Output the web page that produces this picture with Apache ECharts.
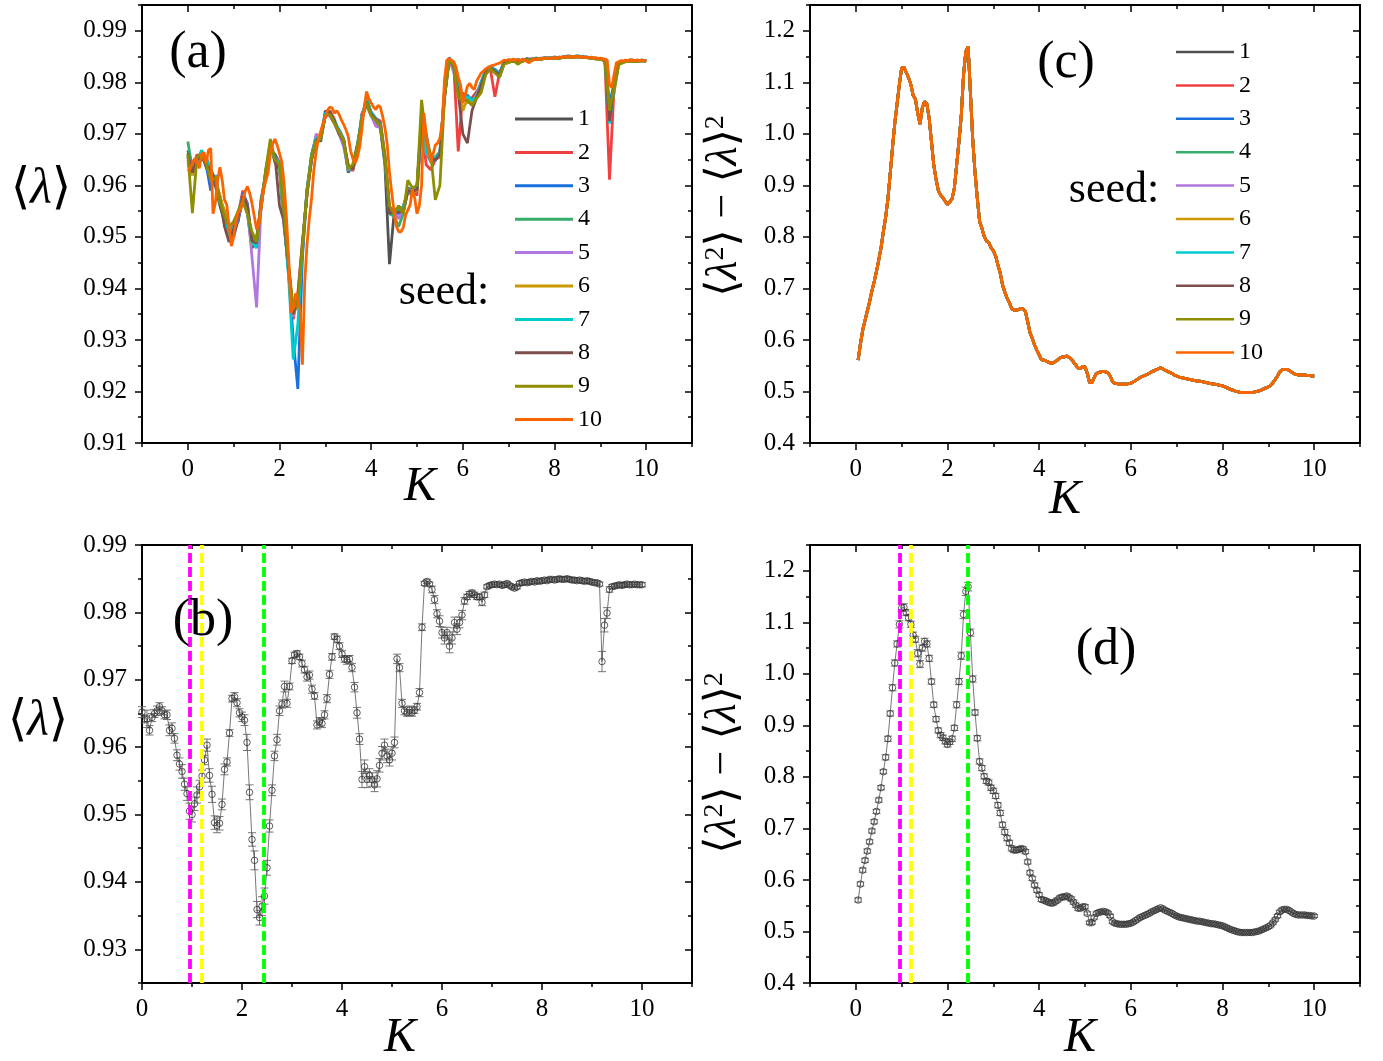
<!DOCTYPE html>
<html>
<head>
<meta charset="utf-8">
<script src="https://cdn.jsdelivr.net/npm/echarts@6/dist/echarts.min.js"></script>
<style>
  html, body { margin: 0; padding: 0; background: #fff; }
  #chart { width: 1383px; height: 1061px; }
</style>
</head>
<body>
<div id="chart"></div>
<script>
// Quatre panneaux : (a) <λ> par seed, (b) moyenne ± erreur, (c) variance par seed, (d) variance moyenne.

// ---- données ----
const seedNames = ["1", "2", "3", "4", "5", "6", "7", "8", "9", "10"];
const seedColors = ["#515151", "#F14040", "#1A6FDF", "#37AD6B", "#B177DE",
                    "#CC9900", "#00CBCC", "#7D4E4E", "#8E8E00", "#FB6501"];

// grilles en K
const K_FINE = 0.05;   // pas des seeds 10, de la moyenne et de la variance
const K_COARSE = 0.1;  // pas des seeds 1..9 (panneau a)

// ticks
const kMajor = [0, 2, 4, 6, 8, 10];
const kMinor = [-1, 1, 3, 5, 7, 9, 11];
const kMinorB = [1, 3, 5, 7, 9, 11];
const lamMajorA = [0.91, 0.92, 0.93, 0.94, 0.95, 0.96, 0.97, 0.98, 0.99];
const lamMinorA = [0.915, 0.925, 0.935, 0.945, 0.955, 0.965, 0.975, 0.985, 0.995];
const lamMajorB = [0.93, 0.94, 0.95, 0.96, 0.97, 0.98, 0.99];
const lamMinorB = [0.925, 0.935, 0.945, 0.955, 0.965, 0.975, 0.985];
const varMajor = [0.4, 0.5, 0.6, 0.7, 0.8, 0.9, 1.0, 1.1, 1.2];
const varMinor = [0.45, 0.55, 0.65, 0.75, 0.85, 0.95, 1.05, 1.15, 1.25];

// (a) seeds 1..9, K = 0 .. 10 pas 0.1
const seed1 = [
  0.9668,0.9640,0.9655,0.9662,0.9635,0.9618,0.9600,0.9560,0.9530,0.9515,
  0.9500,0.9535,0.9570,0.9545,0.9478,0.9495,0.9555,0.9630,0.9680,0.9645,
  0.9630,0.9520,0.9440,0.9355,0.9365,0.9470,0.9592,0.9660,0.9695,0.9685,
  0.9745,0.9735,0.9720,0.9700,0.9690,0.9625,0.9640,0.9680,0.9728,0.9770,
  0.9740,0.9725,0.9712,0.9640,0.9447,0.9545,0.9560,0.9548,0.9590,0.9580,
  0.9600,0.9725,0.9660,0.9648,0.9655,0.9665,0.9770,0.9840,0.9830,0.9790,
  0.9765,0.9772,0.9758,0.9770,0.9800,0.9820,0.9830,0.9820,0.9810,0.9836,
  0.9842,0.9840,0.9843,0.9841,0.9845,0.9842,0.9846,0.9845,0.9847,0.9846,
  0.9848,0.9847,0.9849,0.9850,0.9849,0.9850,0.9849,0.9848,0.9848,0.9846,
  0.9845,0.9843,0.9735,0.9800,0.9838,0.9840,0.9841,0.9842,0.9840,0.9842,
  0.9841];
const seed2 = [
  0.9640,0.9630,0.9660,0.9650,0.9655,0.9630,0.9605,0.9580,0.9540,0.9498,
  0.9525,0.9545,0.9590,0.9550,0.9495,0.9480,0.9575,0.9615,0.9670,0.9660,
  0.9645,0.9540,0.9425,0.9340,0.9390,0.9490,0.9580,0.9650,0.9688,0.9700,
  0.9735,0.9745,0.9728,0.9700,0.9680,0.9640,0.9628,0.9665,0.9740,0.9755,
  0.9735,0.9730,0.9725,0.9660,0.9560,0.9540,0.9548,0.9560,0.9585,0.9595,
  0.9580,0.9720,0.9640,0.9630,0.9650,0.9655,0.9785,0.9845,0.9836,0.9666,
  0.9780,0.9760,0.9770,0.9782,0.9790,0.9820,0.9826,0.9772,0.9818,0.9838,
  0.9840,0.9842,0.9840,0.9843,0.9842,0.9846,0.9845,0.9847,0.9846,0.9848,
  0.9847,0.9849,0.9848,0.9850,0.9849,0.9850,0.9850,0.9849,0.9847,0.9846,
  0.9845,0.9842,0.9611,0.9790,0.9836,0.9840,0.9842,0.9841,0.9843,0.9842,
  0.9842];
const seed3 = [
  0.9655,0.9620,0.9648,0.9665,0.9640,0.9590,0.9620,0.9570,0.9550,0.9510,
  0.9520,0.9530,0.9585,0.9565,0.9490,0.9500,0.9560,0.9625,0.9670,0.9660,
  0.9640,0.9530,0.9430,0.9300,0.9205,0.9460,0.9590,0.9650,0.9690,0.9695,
  0.9740,0.9742,0.9722,0.9708,0.9690,0.9630,0.9632,0.9675,0.9738,0.9762,
  0.9742,0.9730,0.9720,0.9655,0.9550,0.9555,0.9545,0.9550,0.9595,0.9590,
  0.9595,0.9735,0.9670,0.9650,0.9648,0.9662,0.9780,0.9848,0.9836,0.9800,
  0.9772,0.9775,0.9765,0.9778,0.9800,0.9825,0.9830,0.9825,0.9818,0.9840,
  0.9843,0.9842,0.9844,0.9842,0.9846,0.9844,0.9847,0.9846,0.9848,0.9847,
  0.9849,0.9848,0.9850,0.9851,0.9850,0.9851,0.9850,0.9849,0.9848,0.9846,
  0.9846,0.9843,0.9760,0.9795,0.9838,0.9841,0.9842,0.9843,0.9841,0.9843,
  0.9842];
const seed4 = [
  0.9685,0.9630,0.9645,0.9668,0.9650,0.9632,0.9608,0.9575,0.9535,0.9500,
  0.9510,0.9550,0.9575,0.9552,0.9495,0.9490,0.9570,0.9625,0.9678,0.9650,
  0.9638,0.9535,0.9440,0.9352,0.9370,0.9480,0.9585,0.9660,0.9685,0.9692,
  0.9738,0.9740,0.9726,0.9702,0.9682,0.9628,0.9638,0.9670,0.9730,0.9765,
  0.9736,0.9728,0.9715,0.9645,0.9545,0.9540,0.9520,0.9545,0.9590,0.9585,
  0.9590,0.9730,0.9660,0.9655,0.9652,0.9658,0.9775,0.9846,0.9832,0.9795,
  0.9768,0.9768,0.9760,0.9772,0.9795,0.9822,0.9828,0.9822,0.9812,0.9837,
  0.9841,0.9840,0.9842,0.9841,0.9844,0.9843,0.9846,0.9845,0.9847,0.9846,
  0.9848,0.9847,0.9849,0.9850,0.9849,0.9850,0.9849,0.9848,0.9847,0.9846,
  0.9845,0.9842,0.9740,0.9785,0.9836,0.9840,0.9841,0.9842,0.9841,0.9842,
  0.9841];
const seed5 = [
  0.9650,0.9628,0.9652,0.9658,0.9645,0.9622,0.9610,0.9570,0.9540,0.9510,
  0.9512,0.9538,0.9582,0.9560,0.9460,0.9363,0.9565,0.9618,0.9672,0.9655,
  0.9642,0.9530,0.9435,0.9345,0.9380,0.9478,0.9590,0.9650,0.9700,0.9688,
  0.9735,0.9736,0.9720,0.9700,0.9675,0.9630,0.9635,0.9672,0.9730,0.9758,
  0.9735,0.9715,0.9712,0.9650,0.9555,0.9550,0.9535,0.9555,0.9588,0.9590,
  0.9592,0.9728,0.9662,0.9648,0.9652,0.9660,0.9778,0.9844,0.9820,0.9790,
  0.9772,0.9770,0.9762,0.9776,0.9798,0.9820,0.9828,0.9822,0.9816,0.9838,
  0.9842,0.9841,0.9843,0.9842,0.9845,0.9843,0.9846,0.9845,0.9848,0.9847,
  0.9849,0.9848,0.9849,0.9850,0.9850,0.9850,0.9849,0.9849,0.9848,0.9846,
  0.9845,0.9843,0.9750,0.9782,0.9837,0.9840,0.9841,0.9843,0.9841,0.9842,
  0.9842];
const seed6 = [
  0.9645,0.9620,0.9648,0.9662,0.9650,0.9615,0.9618,0.9578,0.9550,0.9505,
  0.9518,0.9542,0.9578,0.9555,0.9485,0.9490,0.9562,0.9620,0.9676,0.9652,
  0.9640,0.9532,0.9430,0.9350,0.9375,0.9488,0.9585,0.9652,0.9688,0.9694,
  0.9738,0.9740,0.9722,0.9705,0.9688,0.9635,0.9632,0.9670,0.9735,0.9762,
  0.9738,0.9728,0.9718,0.9652,0.9552,0.9548,0.9552,0.9552,0.9592,0.9588,
  0.9590,0.9732,0.9665,0.9650,0.9650,0.9660,0.9778,0.9845,0.9834,0.9798,
  0.9745,0.9768,0.9762,0.9775,0.9796,0.9822,0.9829,0.9823,0.9815,0.9838,
  0.9841,0.9840,0.9842,0.9841,0.9845,0.9843,0.9846,0.9845,0.9847,0.9846,
  0.9848,0.9847,0.9849,0.9850,0.9849,0.9850,0.9849,0.9848,0.9847,0.9846,
  0.9845,0.9842,0.9730,0.9780,0.9835,0.9840,0.9841,0.9842,0.9840,0.9842,
  0.9841];
const seed7 = [
  0.9660,0.9632,0.9640,0.9668,0.9652,0.9628,0.9612,0.9565,0.9540,0.9502,
  0.9518,0.9545,0.9580,0.9548,0.9490,0.9478,0.9570,0.9622,0.9670,0.9655,
  0.9642,0.9535,0.9420,0.9262,0.9330,0.9480,0.9590,0.9655,0.9692,0.9690,
  0.9740,0.9738,0.9725,0.9706,0.9685,0.9632,0.9636,0.9672,0.9735,0.9768,
  0.9740,0.9730,0.9716,0.9648,0.9550,0.9552,0.9550,0.9558,0.9590,0.9586,
  0.9594,0.9730,0.9668,0.9645,0.9655,0.9662,0.9780,0.9846,0.9835,0.9800,
  0.9770,0.9772,0.9765,0.9770,0.9800,0.9824,0.9830,0.9824,0.9816,0.9840,
  0.9843,0.9841,0.9843,0.9842,0.9845,0.9844,0.9847,0.9846,0.9848,0.9847,
  0.9849,0.9848,0.9849,0.9850,0.9850,0.9851,0.9850,0.9849,0.9848,0.9847,
  0.9846,0.9843,0.9720,0.9788,0.9837,0.9841,0.9842,0.9843,0.9841,0.9843,
  0.9842];
const seed8 = [
  0.9662,0.9625,0.9650,0.9655,0.9640,0.9630,0.9608,0.9572,0.9520,0.9490,
  0.9515,0.9540,0.9580,0.9560,0.9492,0.9488,0.9568,0.9620,0.9672,0.9658,
  0.9560,0.9530,0.9440,0.9350,0.9385,0.9485,0.9585,0.9652,0.9688,0.9692,
  0.9735,0.9742,0.9724,0.9700,0.9685,0.9638,0.9632,0.9670,0.9730,0.9762,
  0.9738,0.9728,0.9715,0.9650,0.9545,0.9550,0.9548,0.9550,0.9590,0.9588,
  0.9592,0.9728,0.9700,0.9652,0.9650,0.9660,0.9770,0.9846,0.9830,0.9780,
  0.9700,0.9682,0.9745,0.9770,0.9795,0.9820,0.9828,0.9822,0.9814,0.9838,
  0.9842,0.9840,0.9843,0.9841,0.9845,0.9843,0.9846,0.9845,0.9847,0.9846,
  0.9848,0.9847,0.9849,0.9850,0.9849,0.9850,0.9849,0.9848,0.9847,0.9846,
  0.9845,0.9842,0.9725,0.9792,0.9836,0.9840,0.9841,0.9842,0.9841,0.9842,
  0.9841];
const seed9 = [
  0.9660,0.9546,0.9655,0.9660,0.9642,0.9610,0.9615,0.9570,0.9540,0.9520,
  0.9530,0.9550,0.9570,0.9545,0.9510,0.9490,0.9560,0.9630,0.9690,0.9650,
  0.9640,0.9545,0.9445,0.9360,0.9375,0.9480,0.9588,0.9655,0.9686,0.9690,
  0.9735,0.9738,0.9720,0.9704,0.9686,0.9632,0.9640,0.9675,0.9730,0.9760,
  0.9735,0.9726,0.9715,0.9655,0.9560,0.9545,0.9560,0.9545,0.9610,0.9595,
  0.9600,0.9766,0.9690,0.9660,0.9572,0.9600,0.9770,0.9845,0.9832,0.9770,
  0.9765,0.9765,0.9755,0.9768,0.9780,0.9815,0.9826,0.9818,0.9810,0.9835,
  0.9838,0.9842,0.9835,0.9841,0.9844,0.9843,0.9846,0.9844,0.9847,0.9846,
  0.9848,0.9846,0.9849,0.9849,0.9849,0.9850,0.9849,0.9848,0.9847,0.9845,
  0.9845,0.9842,0.9745,0.9790,0.9834,0.9838,0.9841,0.9840,0.9841,0.9842,
  0.9841];
// (a) seed 10, K = 0 .. 10 pas 0.05 (tracée par-dessus)
const seed10 = [
  0.9628,0.9632,0.9643,0.9652,0.9648,0.9633,0.9660,0.9664,0.9643,0.9668,
  0.9672,0.9545,0.9566,0.9610,0.9635,0.9610,0.9572,0.9562,0.9520,0.9482,
  0.9500,0.9530,0.9548,0.9553,0.9570,0.9588,0.9598,0.9585,0.9565,0.9540,
  0.9515,0.9525,0.9559,0.9590,0.9608,0.9624,0.9660,0.9680,0.9690,0.9678,
  0.9662,0.9645,0.9605,0.9540,0.9460,0.9353,0.9362,0.9390,0.9378,0.9360,
  0.9252,0.9411,0.9485,0.9535,0.9575,0.9630,0.9665,0.9690,0.9705,0.9720,
  0.9732,0.9746,0.9752,0.9750,0.9740,0.9745,0.9738,0.9727,0.9718,0.9708,
  0.9695,0.9668,0.9652,0.9643,0.9654,0.9675,0.9710,0.9753,0.9782,0.9768,
  0.9760,0.9752,0.9747,0.9755,0.9752,0.9734,0.9712,0.9680,0.9624,0.9585,
  0.9550,0.9521,0.9510,0.9510,0.9518,0.9542,0.9552,0.9562,0.9592,0.9575,
  0.9545,0.9560,0.9600,0.9740,0.9700,0.9668,0.9645,0.9660,0.9678,0.9682,
  0.9692,0.9720,0.9805,0.9843,0.9846,0.9843,0.9840,0.9830,0.9810,0.9795,
  0.9760,0.9775,0.9792,0.9798,0.9790,0.9786,0.9802,0.9810,0.9818,0.9822,
  0.9826,0.9829,0.9831,0.9833,0.9834,0.9836,0.9837,0.9840,0.9843,0.9842,
  0.9844,0.9843,0.9845,0.9843,0.9844,0.9842,0.9845,0.9843,0.9840,0.9838,
  0.9842,0.9845,0.9844,0.9846,0.9845,0.9847,0.9846,0.9848,0.9846,0.9847,
  0.9848,0.9847,0.9849,0.9848,0.9850,0.9849,0.9850,0.9851,0.9849,0.9850,
  0.9851,0.9849,0.9850,0.9848,0.9849,0.9848,0.9849,0.9847,0.9848,0.9846,
  0.9847,0.9846,0.9845,0.9843,0.9795,0.9790,0.9815,0.9838,0.9840,0.9842,
  0.9841,0.9843,0.9842,0.9844,0.9843,0.9842,0.9843,0.9842,0.9843,0.9842,
  0.9843];

// (b) moyenne sur les seeds et barre d'erreur, K = 0 .. 10 pas 0.05
const lamMean = [
  0.9652,0.9642,0.9642,0.9625,0.9644,0.9650,0.9654,0.9660,0.9654,0.9648,
  0.9648,0.9625,0.9628,0.9613,0.9588,0.9575,0.9564,0.9545,0.9531,0.9505,
  0.9500,0.9516,0.9529,0.9541,0.9557,0.9581,0.9603,0.9558,0.9530,0.9488,
  0.9484,0.9487,0.9515,0.9567,0.9578,0.9621,0.9672,0.9675,0.9666,0.9651,
  0.9645,0.9640,0.9607,0.9533,0.9463,0.9432,0.9359,0.9347,0.9364,0.9379,
  0.9421,0.9483,0.9536,0.9587,0.9611,0.9654,0.9664,0.9690,0.9665,0.9690,
  0.9728,0.9737,0.9739,0.9734,0.9724,0.9715,0.9704,0.9707,0.9686,0.9676,
  0.9633,0.9638,0.9635,0.9648,0.9672,0.9708,0.9734,0.9764,0.9760,0.9750,
  0.9738,0.9731,0.9729,0.9731,0.9718,0.9689,0.9651,0.9612,0.9552,0.9571,
  0.9552,0.9558,0.9552,0.9544,0.9553,0.9573,0.9591,0.9603,0.9587,0.9581,
  0.9591,0.9607,0.9731,0.9718,0.9665,0.9654,0.9651,0.9655,0.9651,0.9655,
  0.9660,0.9681,0.9778,0.9843,0.9846,0.9842,0.9834,0.9819,0.9798,0.9787,
  0.9770,0.9762,0.9770,0.9750,0.9762,0.9785,0.9775,0.9785,0.9796,0.9817,
  0.9823,0.9827,0.9829,0.9826,0.9823,0.9823,0.9815,0.9826,0.9838,0.9840,
  0.9841,0.9842,0.9841,0.9842,0.9840,0.9841,0.9843,0.9840,0.9838,0.9836,
  0.9838,0.9843,0.9844,0.9845,0.9844,0.9845,0.9846,0.9845,0.9847,0.9846,
  0.9847,0.9848,0.9847,0.9849,0.9849,0.9848,0.9849,0.9850,0.9849,0.9849,
  0.9850,0.9849,0.9848,0.9848,0.9847,0.9848,0.9847,0.9846,0.9847,0.9846,
  0.9845,0.9844,0.9844,0.9842,0.9727,0.9781,0.9799,0.9834,0.9838,0.9839,
  0.9840,0.9841,0.9840,0.9841,0.9842,0.9841,0.9841,0.9842,0.9841,0.9841,
  0.9841];
const lamErr = [
  0.0008,0.0006,0.0013,0.0007,0.0006,0.0006,0.0007,0.0006,0.0006,0.0006,
  0.0007,0.0008,0.0008,0.0007,0.0008,0.0009,0.0010,0.0009,0.0010,0.0012,
  0.0011,0.0010,0.0012,0.0010,0.0009,0.0007,0.0009,0.0010,0.0012,0.0010,
  0.0011,0.0010,0.0008,0.0008,0.0006,0.0005,0.0005,0.0006,0.0006,0.0006,
  0.0007,0.0008,0.0012,0.0011,0.0010,0.0014,0.0012,0.0011,0.0014,0.0012,
  0.0011,0.0009,0.0008,0.0007,0.0008,0.0007,0.0006,0.0008,0.0006,0.0005,
  0.0004,0.0004,0.0004,0.0004,0.0005,0.0005,0.0006,0.0006,0.0006,0.0005,
  0.0006,0.0006,0.0006,0.0006,0.0006,0.0006,0.0005,0.0004,0.0005,0.0005,
  0.0005,0.0005,0.0006,0.0005,0.0006,0.0007,0.0008,0.0008,0.0012,0.0010,
  0.0012,0.0010,0.0010,0.0010,0.0012,0.0010,0.0010,0.0009,0.0010,0.0009,
  0.0010,0.0008,0.0007,0.0006,0.0006,0.0006,0.0005,0.0006,0.0005,0.0005,
  0.0005,0.0006,0.0005,0.0003,0.0003,0.0003,0.0005,0.0006,0.0006,0.0008,
  0.0008,0.0009,0.0008,0.0010,0.0009,0.0008,0.0008,0.0008,0.0007,0.0005,
  0.0004,0.0004,0.0004,0.0004,0.0004,0.0004,0.0005,0.0004,0.0003,0.0003,
  0.0003,0.0003,0.0003,0.0003,0.0003,0.0003,0.0003,0.0003,0.0003,0.0003,
  0.0003,0.0003,0.0003,0.0003,0.0003,0.0003,0.0003,0.0003,0.0003,0.0003,
  0.0003,0.0003,0.0003,0.0003,0.0003,0.0003,0.0003,0.0003,0.0003,0.0003,
  0.0003,0.0003,0.0003,0.0003,0.0003,0.0003,0.0003,0.0003,0.0003,0.0003,
  0.0003,0.0003,0.0003,0.0003,0.0015,0.0010,0.0008,0.0004,0.0003,0.0003,
  0.0003,0.0003,0.0003,0.0003,0.0003,0.0003,0.0003,0.0003,0.0003,0.0003,
  0.0003];

// (c)/(d) <λ²> - <λ>², K = 0.05 .. 10 pas 0.05 (les seeds se superposent)
const varMean = [
  0.561,0.592,0.619,0.638,0.656,0.674,0.695,0.713,0.733,0.755,
  0.779,0.810,0.838,0.874,0.923,0.973,1.021,1.058,1.096,1.128,
  1.129,1.119,1.109,1.096,1.075,1.067,1.040,1.019,1.050,1.063,
  1.058,1.030,0.985,0.940,0.912,0.890,0.881,0.876,0.869,0.863,
  0.868,0.874,0.895,0.940,0.985,1.035,1.115,1.160,1.169,1.080,
  0.990,0.925,0.875,0.830,0.817,0.801,0.792,0.789,0.779,0.773,
  0.763,0.745,0.730,0.707,0.693,0.681,0.672,0.661,0.658,0.658,
  0.659,0.661,0.660,0.655,0.635,0.614,0.603,0.590,0.580,0.571,
  0.562,0.561,0.559,0.557,0.555,0.555,0.558,0.561,0.565,0.567,
  0.567,0.569,0.566,0.563,0.557,0.551,0.545,0.545,0.548,0.548,
  0.535,0.517,0.517,0.527,0.535,0.537,0.538,0.539,0.538,0.536,
  0.530,0.519,0.516,0.515,0.514,0.514,0.514,0.514,0.515,0.516,
  0.518,0.521,0.524,0.527,0.529,0.531,0.533,0.535,0.538,0.540,
  0.542,0.544,0.546,0.544,0.541,0.539,0.537,0.535,0.532,0.530,
  0.528,0.527,0.526,0.525,0.524,0.523,0.522,0.521,0.520,0.520,
  0.519,0.518,0.517,0.516,0.515,0.515,0.514,0.513,0.512,0.511,
  0.509,0.507,0.505,0.503,0.502,0.500,0.499,0.498,0.498,0.498,
  0.498,0.498,0.498,0.499,0.500,0.501,0.503,0.505,0.507,0.509,
  0.512,0.517,0.523,0.530,0.538,0.542,0.543,0.543,0.541,0.538,
  0.535,0.533,0.532,0.532,0.532,0.532,0.531,0.531,0.530,0.530];
const varErr = [
  0.004,0.004,0.004,0.004,0.004,0.004,0.004,0.004,0.004,0.004,
  0.004,0.004,0.005,0.005,0.005,0.006,0.006,0.006,0.007,0.007,
  0.007,0.006,0.006,0.006,0.006,0.006,0.007,0.007,0.006,0.006,
  0.006,0.006,0.005,0.005,0.005,0.005,0.005,0.005,0.005,0.005,
  0.005,0.005,0.005,0.006,0.006,0.007,0.008,0.008,0.008,0.007,
  0.006,0.005,0.005,0.005,0.005,0.005,0.005,0.005,0.005,0.005,
  0.005,0.005,0.005,0.005,0.005,0.005,0.005,0.005,0.005,0.005,
  0.004,0.004,0.004,0.004,0.004,0.004,0.004,0.004,0.004,0.004,
  0.004,0.004,0.004,0.004,0.004,0.004,0.004,0.004,0.004,0.004,
  0.004,0.004,0.004,0.004,0.004,0.004,0.004,0.004,0.004,0.004,
  0.003,0.003,0.003,0.003,0.003,0.003,0.003,0.003,0.003,0.003,
  0.003,0.003,0.003,0.003,0.003,0.003,0.003,0.003,0.003,0.003,
  0.003,0.003,0.003,0.003,0.003,0.003,0.003,0.003,0.003,0.003,
  0.003,0.003,0.003,0.003,0.003,0.003,0.003,0.003,0.003,0.003,
  0.003,0.003,0.003,0.003,0.003,0.003,0.003,0.003,0.003,0.003,
  0.003,0.003,0.003,0.003,0.003,0.003,0.003,0.003,0.003,0.003,
  0.003,0.003,0.003,0.003,0.003,0.003,0.003,0.003,0.003,0.003,
  0.003,0.003,0.003,0.003,0.003,0.003,0.003,0.003,0.003,0.003,
  0.003,0.003,0.003,0.003,0.003,0.003,0.003,0.003,0.003,0.003,
  0.003,0.003,0.003,0.003,0.003,0.003,0.003,0.003,0.003,0.003];

// lignes pointillées verticales (b) et (d)
const guideK = [0.96, 1.19, 2.44];
const guideColors = ["#FF00FF", "#FFFF00", "#00FF00"];

// ---- mise en forme ----
const SERIF = '"Liberation Serif", "Times New Roman", "DejaVu Serif", serif';
const fmt2 = (v) => v.toFixed(2);
const fmt1 = (v) => v.toFixed(1);
const fmtK = (v) => String(Math.round(v));

const grids = [
  { left: 142, top: 5, width: 550, height: 438 },   // (a)
  { left: 810, top: 5, width: 550, height: 438 },   // (c)
  { left: 142, top: 545, width: 550, height: 438 }, // (b)
  { left: 810, top: 545, width: 550, height: 438 }, // (d)
];

// cadre fermé : ticks extérieurs à gauche/en bas, intérieurs en haut/à droite
function cadre(dim, gridIndex, min, max, major, minor, fmt) {
  const [dehors, miroir] = dim === "x" ? ["bottom", "top"] : ["left", "right"];
  const base = {
    type: "value", gridIndex, min, max,
    splitLine: { show: false },
    axisLine: { show: false, onZero: false },
    axisLabel: { show: false },
  };
  const trait = { show: true, onZero: false, lineStyle: { color: "#000", width: 2 } };
  const ticks = (vals, len, inside) => ({
    show: true, inside, length: len, customValues: vals,
    lineStyle: { color: "#000", width: 1.5 },
  });
  return [
    { ...base, position: dehors, axisLine: trait, axisTick: ticks(major, 7, false),
      axisLabel: { show: true, customValues: major, formatter: fmt, color: "#000",
        fontFamily: SERIF, fontSize: 25, margin: dim === "x" ? 14 : 15 } },
    { ...base, position: dehors, axisTick: ticks(minor, 4, false) },
    { ...base, position: miroir, axisLine: trait, axisTick: ticks(major, 7, true) },
    { ...base, position: miroir, axisTick: ticks(minor, 4, true) },
  ];
}

const xAxis = [
  ...cadre("x", 0, -1, 11, kMajor, kMinor, fmtK),
  ...cadre("x", 1, -1, 11, kMajor, kMinor, fmtK),
  ...cadre("x", 2, 0, 11, kMajor, kMinorB, fmtK),
  ...cadre("x", 3, -1, 11, kMajor, kMinor, fmtK),
];
const yAxis = [
  ...cadre("y", 0, 0.91, 0.995, lamMajorA, lamMinorA, fmt2),
  ...cadre("y", 1, 0.4, 1.25, varMajor, varMinor, fmt1),
  ...cadre("y", 2, 0.925, 0.99, lamMajorB, lamMinorB, fmt2),
  ...cadre("y", 3, 0.4, 1.25, varMajor, varMinor, fmt1),
];

const paires = (vals, k0, pas) => vals.map((v, i) => [+(k0 + i * pas).toFixed(2), v]);
const triples = (vals, errs, k0, pas) => vals.map((v, i) => [+(k0 + i * pas).toFixed(2), v, errs[i]]);

function barresErreur(params, api) {
  const k = api.value(0), v = api.value(1), e = api.value(2);
  const haut = api.coord([k, v + e]);
  const bas = api.coord([k, v - e]);
  const w = 4;
  const st = { stroke: "#666", lineWidth: 0.9 };
  return {
    type: "group",
    children: [
      { type: "line", shape: { x1: haut[0], y1: haut[1], x2: bas[0], y2: bas[1] }, style: st },
      { type: "line", shape: { x1: haut[0] - w, y1: haut[1], x2: haut[0] + w, y2: haut[1] }, style: st },
      { type: "line", shape: { x1: bas[0] - w, y1: bas[1], x2: bas[0] + w, y2: bas[1] }, style: st },
    ],
  };
}

const series = [];
const seedsA = [seed1, seed2, seed3, seed4, seed5, seed6, seed7, seed8, seed9];

// (a)
seedsA.forEach((vals, i) => {
  series.push({
    type: "line", name: seedNames[i], xAxisIndex: 0, yAxisIndex: 0,
    data: paires(vals, 0, K_COARSE), symbol: "none",
    lineStyle: { color: seedColors[i], width: 2.8 }, itemStyle: { color: seedColors[i] },
  });
});
series.push({
  type: "line", name: seedNames[9], xAxisIndex: 0, yAxisIndex: 0,
  data: paires(seed10, 0, K_FINE), symbol: "none",
  lineStyle: { color: seedColors[9], width: 2.8 }, itemStyle: { color: seedColors[9] },
});

// (c)
seedNames.forEach((nom, i) => {
  series.push({
    type: "line", name: nom, xAxisIndex: 4, yAxisIndex: 4,
    data: paires(varMean, 0.05, K_FINE), symbol: "none",
    lineStyle: { color: seedColors[i], width: 2.8 }, itemStyle: { color: seedColors[i] },
  });
});

// (b) et (d) : barres d'erreur, points creux, pointillés
function panneauMoyen(ax, vals, errs, k0) {
  series.push({
    type: "custom", xAxisIndex: ax, yAxisIndex: ax, renderItem: barresErreur,
    data: triples(vals, errs, k0, K_FINE), encode: { x: 0, y: 1 }, z: 2,
  });
  series.push({
    type: "line", xAxisIndex: ax, yAxisIndex: ax, data: paires(vals, k0, K_FINE),
    symbol: "circle", symbolSize: 6.5, showAllSymbol: true, z: 3,
    itemStyle: { color: "rgba(255,255,255,0)", borderColor: "#333", borderWidth: 0.8 },
    lineStyle: { color: "#555", width: 0.8 },
  });
  series.push({
    type: "line", xAxisIndex: ax, yAxisIndex: ax, data: [], z: 5,
    markLine: {
      silent: true, symbol: ["none", "none"], label: { show: false },
      lineStyle: { type: [10, 4], width: 3.8 },
      emphasis: { disabled: true },
      data: guideK.map((k, i) => ({ xAxis: k, lineStyle: { color: guideColors[i], type: [10, 4], width: 3.8 } })),
    },
  });
}
panneauMoyen(8, lamMean, lamErr, 0);
panneauMoyen(12, varMean, varErr, 0.05);

// légendes : un simple trait de couleur devant chaque numéro
const legende = (left, top, epaisseur) => ({
  data: seedNames, orient: "vertical", left, top, padding: 0,
  icon: "rect", itemWidth: 58, itemHeight: epaisseur, itemGap: 9.4, selectedMode: false,
  textStyle: { fontFamily: SERIF, fontSize: 24, color: "#000", lineHeight: 22 },
});

// textes
const texte = (t, x, y, size, extra = {}) => ({
  type: "text", x, y, z: 10,
  style: { text: t, fontFamily: SERIF, fontSize: size, fill: "#000", align: "center", verticalAlign: "middle", ...extra },
});
const richLam = {
  b: { fontFamily: SERIF, fontSize: 50 },
  l: { fontFamily: SERIF, fontSize: 50, fontStyle: "italic" },
};
const richVar = {
  b: { fontFamily: SERIF, fontSize: 44 },
  l: { fontFamily: SERIF, fontSize: 44, fontStyle: "italic" },
  s: { fontFamily: SERIF, fontSize: 28, verticalAlign: "top" },
};
const titreLam = "{b|⟨}{l|λ}{b|⟩}";
const titreVar = "{b|⟨}{l|λ}{s|2}{b|⟩ − ⟨}{l|λ}{b|⟩}{s|2}";

const graphic = [
  texte("(a)", 198, 53, 52), texte("(c)", 1066, 63, 52),
  texte("(b)", 203, 621, 52), texte("(d)", 1106, 650, 52),
  texte("seed:", 444, 292, 44), texte("seed:", 1114, 190, 44),
  texte("K", 420, 487, 48, { fontStyle: "italic" }), texte("K", 1065, 500, 48, { fontStyle: "italic" }),
  texte("K", 400, 1038, 48, { fontStyle: "italic" }), texte("K", 1080, 1038, 48, { fontStyle: "italic" }),
  texte(titreLam, 41, 190, 50, { rich: richLam }),
  texte(titreLam, 38, 722, 50, { rich: richLam }),
  { ...texte(titreVar, 724, 206, 44, { rich: richVar }), rotation: Math.PI / 2 },
  { ...texte(titreVar, 723, 763, 44, { rich: richVar }), rotation: Math.PI / 2 },
];

const chart = echarts.init(document.getElementById("chart"));
chart.setOption({
  animation: false,
  backgroundColor: "#fff",
  textStyle: { fontFamily: SERIF },
  grid: grids,
  xAxis, yAxis,
  legend: [legende(515, 107, 3), legende(1176, 40, 2.5)],
  graphic,
  series,
});
</script>
</body>
</html>
